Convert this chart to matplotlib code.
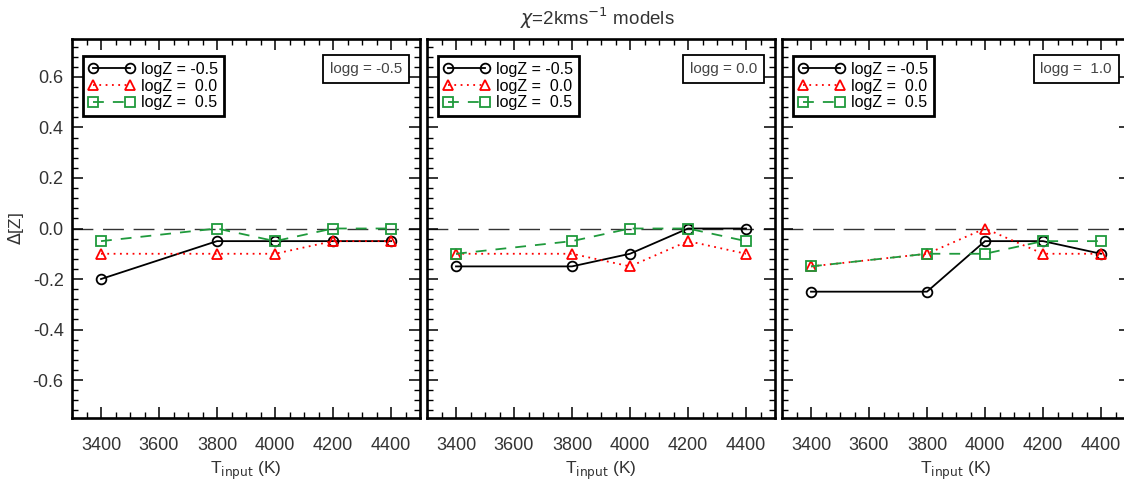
import numpy as np
import matplotlib
matplotlib.use("Agg")
import matplotlib.pyplot as plt
from matplotlib.ticker import MultipleLocator

plt.rcParams['font.family'] = ['Liberation Sans', 'DejaVu Sans']
plt.rcParams['axes.unicode_minus'] = False

t_input = [3400, 3800, 4000, 4200, 4400]
logg_labels = ["logg = -0.5", "logg = 0.0", "logg =  1.0"]
logz_labels = ["logZ = -0.5", "logZ =  0.0", "logZ =  0.5"]

# delta [Z] per panel (logg), rows = logZ -0.5, 0.0, 0.5
dz_logg_m05 = [[-0.20, -0.05, -0.05, -0.05, -0.05],
               [-0.10, -0.10, -0.10, -0.05, -0.05],
               [-0.05, 0.00, -0.05, 0.00, 0.00]]
dz_logg_00 = [[-0.15, -0.15, -0.10, 0.00, 0.00],
              [-0.10, -0.10, -0.15, -0.05, -0.10],
              [-0.10, -0.05, 0.00, 0.00, -0.05]]
dz_logg_10 = [[-0.25, -0.25, -0.05, -0.05, -0.10],
              [-0.15, -0.10, 0.00, -0.10, -0.10],
              [-0.15, -0.10, -0.10, -0.05, -0.05]]
panels = [dz_logg_m05, dz_logg_00, dz_logg_10]

styles = [dict(color="black", ls="-", marker="o", ms=7),
          dict(color="red", ls=(0, (1, 2.5)), marker="^", ms=7.5),
          dict(color="#1f9a3c", ls=(0, (6, 5)), marker="s", ms=6.5)]

fig = plt.figure(figsize=(11.24, 4.83), dpi=100)
lefts = [72, 427, 782]
for i, (left, data) in enumerate(zip(lefts, panels)):
    ax = fig.add_axes([left / 1124, 1 - 418 / 483, 348 / 1124, 379 / 483])
    ax.axhline(0.0, color="#333333", lw=1.0, ls=(0, (15, 7)), zorder=1)
    for row, st, lab in zip(data, styles, logz_labels):
        ax.plot(t_input, row, color=st["color"], ls=st["ls"], lw=1.3,
                marker=st["marker"], ms=st["ms"], mfc="none",
                mec=st["color"], mew=1.3, label=lab, zorder=3)
    ax.set_xlim(3300, 4500)
    ax.set_ylim(-0.75, 0.75)
    ax.xaxis.set_major_locator(MultipleLocator(200))
    ax.xaxis.set_minor_locator(MultipleLocator(50))
    ax.yaxis.set_major_locator(MultipleLocator(0.2))
    ax.yaxis.set_minor_locator(MultipleLocator(0.04))
    ax.tick_params(which="both", direction="in", top=True, right=True,
                   labelsize=13, colors="black", labelcolor="#333333")
    ax.tick_params(which="major", length=8, width=1.1)
    ax.tick_params(axis="x", which="major", pad=14)
    ax.tick_params(axis="y", which="major", pad=6)
    ax.tick_params(which="minor", length=4, width=1.0)
    for sp in ax.spines.values():
        sp.set_linewidth(1.9)
    if i > 0:
        ax.set_yticklabels([])
    else:
        ax.set_ylabel(r"$\Delta$[Z]", fontsize=12.5, color="#333333")
        ax.yaxis.set_label_coords(-46 / 348, 0.5)
    ax.set_xlabel(r"T$_{\rm input}$ (K)", fontsize=12.5, color="#333333", labelpad=4)
    leg = ax.legend(loc="upper left", bbox_to_anchor=(11 / 348, 1 - 17 / 379),
                    borderaxespad=0, numpoints=2, handlelength=2.9,
                    fontsize=11.5, fancybox=False, edgecolor="black",
                    framealpha=1, borderpad=0.35, labelspacing=0.12,
                    handletextpad=0.4)
    leg.get_frame().set_linewidth(2.0)
    ax.text(1 - 18 / 348, 1 - 30 / 379, logg_labels[i], transform=ax.transAxes,
            ha="right", va="center", fontsize=11, color="#444444",
            bbox=dict(boxstyle="square,pad=0.45", fc="white", ec="black", lw=1.3))

fig.text(0.531, 0.962, r"$\chi$=2kms$^{-1}$ models", ha="center", va="center",
         fontsize=13.5, color="#333333")

fig.savefig("out.png", dpi=100)
